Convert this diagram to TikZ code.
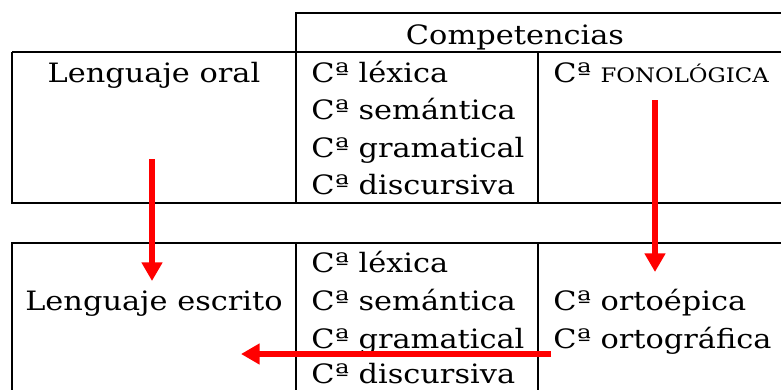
\documentclass[tikz,border=0pt]{standalone}
\usepackage{fontspec}
\setmainfont[FakeStretch=1.14]{DejaVu Serif}
\usetikzlibrary{arrows.meta}
\begin{document}
\begin{tikzpicture}[x=0.75pt,y=-0.75pt,
  tbl/.style={line width=1.2pt, draw=black},
  txt/.style={inner sep=0pt, font=\fontsize{20}{24}\selectfont},
  redarrow/.style={draw=red, line width=4pt, -{Triangle[width=15pt,length=14pt]}}]
\useasboundingbox (0,0) rectangle (781,389);
\begin{scope}
\clip (0,0) rectangle (781,389);
% top table
\draw[tbl] (800,13) -- (296,13) -- (296,203);
\draw[tbl] (12,52) -- (800,52);
\draw[tbl] (12,52) -- (12,203) -- (800,203);
\draw[tbl] (538,52) -- (538,203);
% bottom table
\draw[tbl] (12,400) -- (12,243) -- (800,243);
\draw[tbl] (296,243) -- (296,400);
\draw[tbl] (538,243) -- (538,400);
\end{scope}
% texts top
\node[txt, anchor=base] (comp) at (515,44) {Competencias};
\node[txt, anchor=base] (oral) at (154,82) {Lenguaje oral};
\node[txt, anchor=base west] (t1) at (311,82) {Cª léxica};
\node[txt, anchor=base west] (t2) at (311,119.5) {Cª semántica};
\node[txt, anchor=base west] (t3) at (311,157) {Cª gramatical};
\node[txt, anchor=base west] (t4) at (311,194.5) {Cª discursiva};
\node[txt, anchor=base west] (fono) at (553,82) {Cª {\fontsize{15}{18}\selectfont FONOLÓGICA}};
% texts bottom
\node[txt, anchor=base] (escr) at (154,310) {Lenguaje escrito};
\node[txt, anchor=base west] (b1) at (311,272) {Cª léxica};
\node[txt, anchor=base west] (b2) at (311,310) {Cª semántica};
\node[txt, anchor=base west] (b3) at (311,348) {Cª gramatical};
\node[txt, anchor=base west] (b4) at (311,383.5) {Cª discursiva};
\node[txt, anchor=base west] (orto) at (553,310) {Cª ortoépica};
\node[txt, anchor=base west] (ortg) at (553,348) {Cª ortográfica};
% arrows
\coordinate (a1s) at (152,159);
\coordinate (a1e) at (152,281);
\coordinate (a2s) at (655,100);
\coordinate (a2e) at (655,272);
\coordinate (a3s) at (551,354);
\coordinate (a3e) at (241,354);
\draw[redarrow] (a1s) -- (a1e);
\draw[redarrow] (a2s) -- (a2e);
\draw[redarrow] (a3s) -- (a3e);
\end{tikzpicture}
\end{document}
